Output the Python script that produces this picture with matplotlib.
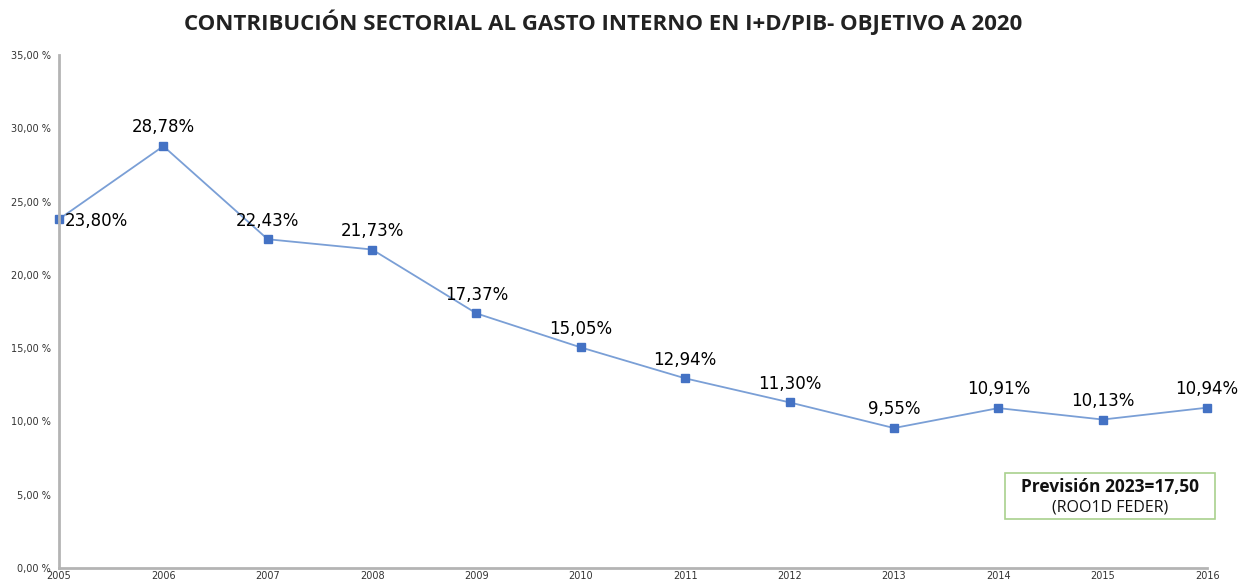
import matplotlib.pyplot as plt

years = [2005, 2006, 2007, 2008, 2009, 2010, 2011, 2012, 2013, 2014, 2015, 2016]
valores = [23.80, 28.78, 22.43, 21.73, 17.37, 15.05, 12.94, 11.30, 9.55, 10.91, 10.13, 10.94]
etiquetas = ["23,80%", "28,78%", "22,43%", "21,73%", "17,37%", "15,05%",
             "12,94%", "11,30%", "9,55%", "10,91%", "10,13%", "10,94%"]
yticks = [0, 5, 10, 15, 20, 25, 30, 35]

fig = plt.figure(figsize=(12.47, 5.85), dpi=100)
ax = fig.add_axes([0.0473, 0.029, 0.9207, 0.877])

# linea con marcadores cuadrados
ax.plot(years, valores, color="#7a9fd6", linewidth=1.3, marker="s",
        markersize=6, markerfacecolor="#4472c4", markeredgecolor="#4472c4", clip_on=False)

# etiquetas de datos
for i, (x, v, t) in enumerate(zip(years, valores, etiquetas)):
    if i == 0:
        ax.annotate(t, (x, v), xytext=(4, -1), textcoords="offset points",
                    ha="left", va="center", fontsize=12, color="black")
    else:
        ax.annotate(t, (x, v), xytext=(0, 7), textcoords="offset points",
                    ha="center", va="bottom", fontsize=12, color="black")

ax.set_xlim(2005, 2016)
ax.set_ylim(0, 35)
ax.set_yticks(yticks)
ax.set_yticklabels([f"{y},00 %" for y in yticks], fontsize=7, color="#333333")
ax.set_xticks(years)
ax.set_xticklabels([str(y) for y in years], fontsize=7, color="#333333")
ax.tick_params(length=0, pad=2)
ax.tick_params(axis="y", pad=6)

for s in ["top", "right"]:
    ax.spines[s].set_visible(False)
for s in ["left", "bottom"]:
    ax.spines[s].set_color("#b4b4b4")
    ax.spines[s].set_linewidth(2)

fig.text(0.484, 0.962, "CONTRIBUCIÓN SECTORIAL AL GASTO INTERNO EN I+D/PIB- OBJETIVO A 2020",
         ha="center", va="center", fontsize=16, fontweight="bold",
         family="Open Sans", color="#222222")

# recuadro de prevision
fig.patches.append(plt.Rectangle((1005 / 1247, 1 - 519 / 585), 210 / 1247, 46 / 585,
                                 transform=fig.transFigure, facecolor="white",
                                 edgecolor="#a9d18e", linewidth=1.2))
fig.text(1110 / 1247, 1 - 487 / 585, "Previsión 2023=17,50", ha="center", va="center",
         fontsize=12.5, fontweight="bold", family="Open Sans", color="#111111")
fig.text(1110 / 1247, 1 - 508 / 585, "(ROO1D FEDER)", ha="center", va="center",
         fontsize=11.5, family="Open Sans", color="#111111")

fig.savefig("out.png", dpi=100)
